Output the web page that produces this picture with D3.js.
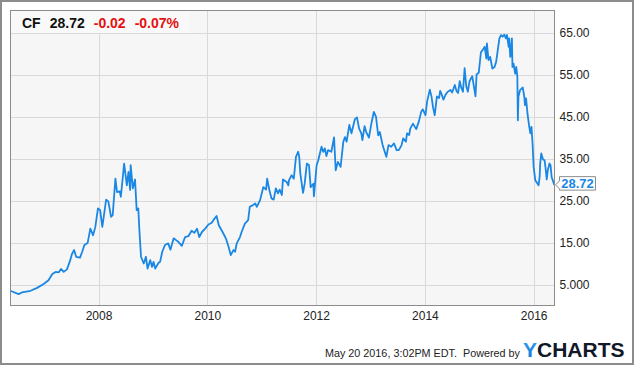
<!DOCTYPE html>
<html><head><meta charset="utf-8">
<script src="https://cdn.jsdelivr.net/npm/d3@7"></script>
<style>
html,body{margin:0;padding:0;background:#fff;}
svg{display:block;font-family:"Liberation Sans",Arial,sans-serif;}
</style></head>
<body>
<svg id="c" width="635" height="366"></svg>
<script>
// decimal-year dates and prices (CF, split-adjusted)
const years = [2006.39,2006.40,2006.53,2006.59,2006.75,2006.87,2006.99,2007.08,2007.15,2007.21,2007.27,2007.31,2007.36,2007.42,2007.48,2007.51,2007.55,2007.59,2007.66,2007.70,2007.74,2007.80,2007.85,2007.90,2007.94,2007.99,2008.03,2008.07,2008.14,2008.18,2008.23,2008.26,2008.31,2008.34,2008.39,2008.41,2008.47,2008.52,2008.55,2008.58,2008.59,2008.63,2008.67,2008.70,2008.73,2008.75,2008.78,2008.83,2008.87,2008.90,2008.95,2008.98,2009.01,2009.04,2009.10,2009.13,2009.17,2009.22,2009.28,2009.32,2009.38,2009.43,2009.47,2009.53,2009.59,2009.65,2009.71,2009.76,2009.81,2009.85,2009.90,2009.96,2010.02,2010.08,2010.12,2010.17,2010.21,2010.28,2010.34,2010.39,2010.43,2010.48,2010.51,2010.54,2010.60,2010.63,2010.69,2010.75,2010.78,2010.84,2010.88,2010.91,2010.97,2011.03,2011.08,2011.10,2011.14,2011.18,2011.22,2011.26,2011.30,2011.33,2011.37,2011.39,2011.46,2011.49,2011.50,2011.55,2011.59,2011.63,2011.67,2011.69,2011.71,2011.76,2011.79,2011.83,2011.87,2011.90,2011.95,2011.96,2012.01,2012.04,2012.10,2012.13,2012.16,2012.19,2012.22,2012.28,2012.33,2012.36,2012.40,2012.45,2012.50,2012.53,2012.56,2012.61,2012.65,2012.71,2012.75,2012.79,2012.83,2012.85,2012.89,2012.92,2012.97,2013.02,2013.06,2013.10,2013.14,2013.17,2013.22,2013.26,2013.29,2013.33,2013.38,2013.43,2013.48,2013.52,2013.57,2013.60,2013.65,2013.67,2013.71,2013.73,2013.78,2013.84,2013.89,2013.93,2013.96,2014.01,2014.04,2014.09,2014.12,2014.15,2014.18,2014.22,2014.26,2014.28,2014.31,2014.34,2014.38,2014.42,2014.47,2014.50,2014.55,2014.58,2014.61,2014.64,2014.67,2014.70,2014.73,2014.76,2014.79,2014.82,2014.87,2014.89,2014.93,2014.95,2014.99,2015.03,2015.06,2015.10,2015.13,2015.14,2015.17,2015.20,2015.24,2015.28,2015.31,2015.34,2015.37,2015.40,2015.43,2015.46,2015.49,2015.51,2015.54,2015.55,2015.57,2015.58,2015.60,2015.61,2015.63,2015.66,2015.68,2015.70,2015.71,2015.72,2015.75,2015.80,2015.83,2015.84,2015.86,2015.89,2015.92,2015.94,2015.96,2015.98,2016.00,2016.03,2016.06,2016.09,2016.11,2016.12,2016.14,2016.17,2016.20,2016.22,2016.24,2016.26,2016.29,2016.31,2016.33,2016.38];
const prices = [3.5,3.4,2.7,3.1,3.5,4.2,5.1,6.0,7.5,8.0,7.9,8.7,8.0,8.6,10.8,12.2,13.2,11.6,11.4,12.8,14.4,14.9,18.3,16.7,18.6,23.1,22.7,18.7,25.2,24.8,21.1,21.5,30.2,27.0,27.2,25.9,33.8,28.6,31.8,27.5,33.4,27.9,30.0,22.7,23.1,17.9,11.6,10.0,11.6,8.8,10.8,9.2,10.4,8.8,10.1,10.4,12.8,14.4,14.8,13.3,16.0,15.5,15.1,14.2,16.3,16.5,17.8,17.3,18.3,16.3,17.5,18.3,19.3,19.7,20.5,21.3,19.1,17.5,16.0,14.0,12.0,13.2,12.8,14.8,16.3,17.5,19.5,20.3,23.5,23.9,24.3,23.5,25.1,28.2,27.6,30.2,27.5,25.5,25.2,27.9,26.7,27.6,26.3,30.0,29.4,28.6,29.8,31.0,30.2,35.4,36.6,35.4,31.4,26.8,29.0,33.8,33.4,28.2,29.0,26.0,33.4,34.6,37.8,36.6,37.4,35.6,37.0,36.6,40.0,32.2,34.2,33.0,39.0,40.1,39.0,43.0,41.0,44.3,44.8,42.1,41.0,39.4,42.7,41.3,40.0,43.7,46.1,44.9,40.5,41.3,38.3,36.6,35.4,38.2,37.8,38.6,37.0,37.0,38.2,39.8,39.0,41.0,40.6,42.1,43.3,42.0,43.9,46.1,46.7,45.3,48.6,51.4,49.8,47.1,45.3,49.8,49.4,51.1,50.2,49.0,50.2,50.9,51.3,50.7,52.5,51.1,50.6,53.4,51.8,50.9,56.5,52.2,50.9,53.4,54.6,53.0,49.8,55.0,55.4,60.3,60.8,61.6,58.8,62.4,58.4,59.2,56.4,56.8,58.0,60.8,63.6,64.4,64.0,64.5,63.6,64.4,61.6,63.6,59.2,60.0,63.6,56.8,57.6,55.2,56.8,54.5,44.1,49.7,51.3,51.9,49.5,47.7,49.3,45.3,42.5,41.0,42.5,38.5,33.0,29.8,29.2,28.6,30.6,33.8,36.2,34.8,34.6,32.6,30.0,32.2,33.8,33.4,30.6,28.72];
const yTickValues = [65,55,45,35,25,15,5];
const yTickLabels = ["65.00","55.00","45.00","35.00","25.00","15.00","5.000"];
const xTickYears = [2008,2010,2012,2014,2016];
const ticker = "CF";
const lastPrice = "28.72";
const change = "-0.02";
const changePct = "-0.07%";
const footerText = "May 20 2016, 3:02PM EDT.\u00a0 Powered by";

function toDate(dy){
  const y = Math.floor(dy), f = dy - y;
  const a = Date.UTC(y,0,1), b = Date.UTC(y+1,0,1);
  return new Date(a + f*(b-a));
}
const data = years.map((t,i)=>({d:toDate(t), v:prices[i]}));

const svg = d3.select("#c");
const L=10.5, R=554.5, T=10.5, B=305.5;

const x = d3.scaleUtc().domain([new Date(Date.UTC(2006,4,20)), new Date(Date.UTC(2016,4,20))]).range([L,R]);
const y = d3.scaleLinear().domain([5,65]).range([284.5,32.5]);

// outer border
svg.append("rect").attr("x",1).attr("y",1).attr("width",632).attr("height",363)
  .attr("fill","#fff").attr("stroke","#8c8c8c").attr("stroke-width",2);

// plot background
svg.append("rect").attr("x",L).attr("y",T).attr("width",R-L).attr("height",B-T).attr("fill","#f6f6f6");

// gridlines
const g = svg.append("g");
g.selectAll(".hy").data(yTickValues).join("line")
  .attr("x1",L).attr("x2",R).attr("y1",d=>Math.round(y(d))+0.5).attr("y2",d=>Math.round(y(d))+0.5)
  .attr("stroke","#d9d9d9").attr("stroke-width",1);
const xTicks = xTickYears.map(yr=>new Date(Date.UTC(yr,0,1)));
g.selectAll(".vx").data(xTicks).join("line")
  .attr("x1",d=>Math.round(x(d))+0.5).attr("x2",d=>Math.round(x(d))+0.5).attr("y1",T).attr("y2",B)
  .attr("stroke","#d9d9d9").attr("stroke-width",1);

// header box
svg.append("rect").attr("x",L+0.5).attr("y",T+0.5).attr("width",179).attr("height",22).attr("fill","#f9f9f9");
const hdr = svg.append("text").attr("x",22).attr("y",28.3).attr("font-size",14).attr("font-weight","bold");
hdr.append("tspan").attr("fill","#111").text(ticker);
hdr.append("tspan").attr("fill","#111").attr("dx",9).text(lastPrice);
hdr.append("tspan").attr("fill","#e5100f").attr("dx",9).text(change);
hdr.append("tspan").attr("fill","#e5100f").attr("dx",9).text(changePct);

// line
const line = d3.line().x(d=>x(d.d)).y(d=>y(d.v)).curve(d3.curveLinear);
svg.append("path").datum(data).attr("d",line).attr("fill","none")
  .attr("stroke","#1a87e4").attr("stroke-width",1.8).attr("stroke-linejoin","round");

// plot border
svg.append("rect").attr("x",L).attr("y",T).attr("width",R-L).attr("height",B-T)
  .attr("fill","none").attr("stroke","#8c8c8c").attr("stroke-width",1);

// y axis labels
const yAxis = d3.axisRight(y).tickValues(yTickValues).tickSize(0).tickPadding(0)
  .tickFormat((d,i)=>yTickLabels[i]);
const ya = svg.append("g").attr("transform",`translate(${R+5},0)`).call(yAxis);
ya.select(".domain").remove();
ya.selectAll("text").attr("font-size",12).attr("fill","#222").attr("font-family","'Liberation Sans',Arial,sans-serif");

// x axis labels
const xAxis = d3.axisBottom(x).tickValues(xTicks).tickSize(0).tickPadding(0)
  .tickFormat(d3.utcFormat("%Y"));
const xa = svg.append("g").attr("transform",`translate(0,${B+6})`).call(xAxis);
xa.select(".domain").remove();
xa.selectAll("text").attr("font-size",12).attr("fill","#222").attr("font-family","'Liberation Sans',Arial,sans-serif");

// last price label
const last = data[data.length-1];
const ly = y(last.v);
const lx = R;
const bx = 559.5, bw = 36, bh = 13.5, cy = ly - 1.5;
svg.append("path")
  .attr("d",`M${lx+1},${ly} L${bx},${ly-4} L${bx},${cy-bh/2} L${bx+bw},${cy-bh/2} L${bx+bw},${cy+bh/2} L${bx},${cy+bh/2} L${bx},${ly+4} Z`)
  .attr("fill","#fff").attr("stroke","#8c8c8c").attr("stroke-width",1);
svg.append("text").attr("x",bx+bw/2).attr("y",cy+4.6).attr("text-anchor","middle")
  .attr("font-size",13).attr("font-weight","bold").attr("fill","#1a87e4").text(lastPrice);

// footer
svg.append("text").attr("x",520).attr("y",357).attr("text-anchor","end")
  .attr("font-size",10.8).attr("fill","#222").text(footerText);
const defs = svg.append("defs");
const gr = defs.append("linearGradient").attr("id","yg").attr("x1",0).attr("x2",0).attr("y1",0).attr("y2",1);
gr.append("stop").attr("offset","0%").attr("stop-color","#2aa6f0");
gr.append("stop").attr("offset","100%").attr("stop-color","#1b6fd6");
const logo = svg.append("text").attr("x",523).attr("y",357).attr("font-size",21).attr("font-weight","bold")
  .attr("font-family","'Liberation Sans',Arial,sans-serif");
logo.append("tspan").attr("fill","url(#yg)").text("Y");
logo.append("tspan").attr("fill","#111827").text("CHARTS");
</script>
</body></html>
